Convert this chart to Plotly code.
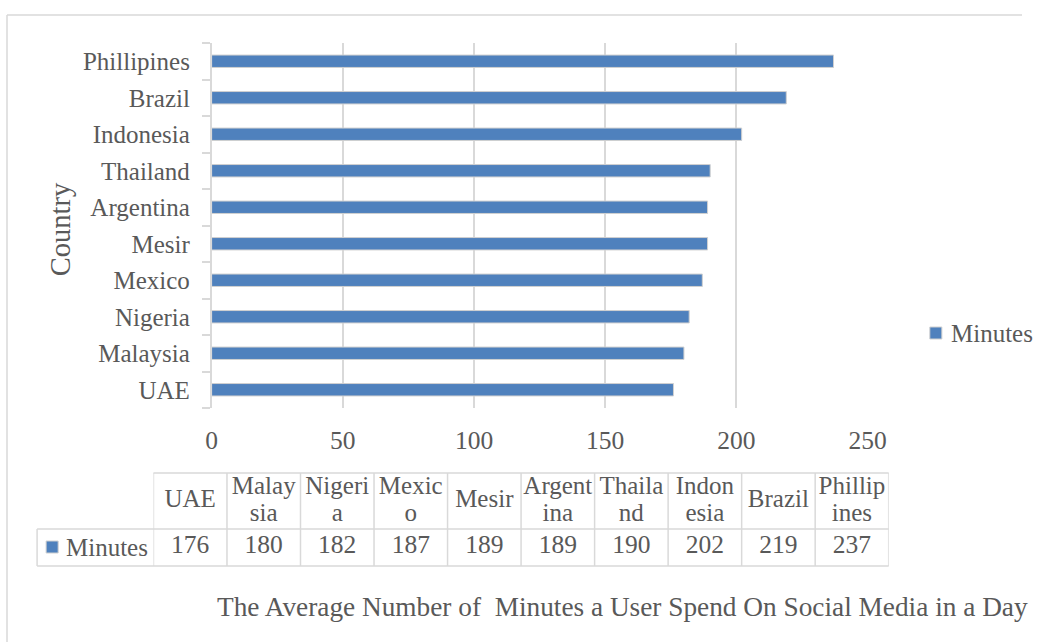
import plotly.graph_objects as go

# ---------------- data ----------------
countries = ["UAE", "Malaysia", "Nigeria", "Mexico", "Mesir",
             "Argentina", "Thailand", "Indonesia", "Brazil", "Phillipines"]
minutes = [176, 180, 182, 187, 189, 189, 190, 202, 219, 237]
table_headers = ["UAE", "Malay<br>sia", "Nigeri<br>a", "Mexic<br>o", "Mesir",
                 "Argent<br>ina", "Thaila<br>nd", "Indon<br>esia", "Brazil", "Phillip<br>ines"]
series_name = "Minutes"
x_ticks = [0, 50, 100, 150, 200, 250]
axis_title_y = "Country"
chart_title = "The Average Number of&nbsp; Minutes a User Spend On Social Media in a Day"

# ---------------- style ----------------
W, H = 1041, 642
FONT = "Liberation Serif"
TXT = "#595959"
GRID = "#d9d9d9"
BAR = "#4f81bd"
FS = 25
FS_NUM = 25.5
# horizontal calibration of the rendering pipeline (offset, scale)
OFF, SC = 7.0, 0.973


def px(x):
    return (x - OFF) / SC / W


def py(y):
    return 1 - y / H


fig = go.Figure()

fig.add_trace(go.Bar(
    x=minutes, y=countries, orientation="h", name=series_name,
    marker=dict(color=BAR, line=dict(color="#d0d0d0", width=1)),
    showlegend=False, hoverinfo="x+y",
    xaxis="x", yaxis="y",
))

# ---------------- data table (category axis x2, pixel-like axis y2) ----------------
TABLE_TOP, TABLE_MID, TABLE_BOT = 473, 529, 566
hdr_x, hdr_y, hdr_t = [], [], []
for c, lab in zip(countries, table_headers):
    parts = lab.split("<br>")
    if len(parts) == 1:
        hdr_x.append(c); hdr_y.append(TABLE_BOT - 501); hdr_t.append(parts[0])
    else:
        hdr_x += [c, c]
        hdr_y += [TABLE_BOT - 488, TABLE_BOT - 515]
        hdr_t += parts

fig.add_trace(go.Scatter(
    x=hdr_x, y=hdr_y, text=hdr_t, mode="text", textposition="middle center",
    textfont=dict(family=FONT, size=FS, color=TXT),
    xaxis="x2", yaxis="y2", showlegend=False, hoverinfo="skip",
))
fig.add_trace(go.Scatter(
    x=countries, y=[TABLE_BOT - 547] * len(countries),
    text=[str(v) for v in minutes], mode="text", textposition="middle center",
    textfont=dict(family=FONT, size=FS_NUM, color=TXT),
    xaxis="x2", yaxis="y2", showlegend=False, hoverinfo="skip",
))

shapes = []
# outer chart border (top and left edges; right/bottom lie outside the view)
shapes.append(dict(type="line", xref="paper", yref="paper",
                   x0=px(8), x1=1, y0=py(15), y1=py(15),
                   line=dict(color=GRID, width=1.5), layer="below"))
shapes.append(dict(type="line", xref="paper", yref="paper",
                   x0=px(8), x1=px(8), y0=py(15), y1=0,
                   line=dict(color=GRID, width=1.5), layer="below"))
# table vertical lines
for i in range(len(countries) + 1):
    shapes.append(dict(type="line", xref="x2", yref="paper",
                       x0=i - 0.5, x1=i - 0.5, y0=py(TABLE_TOP), y1=py(TABLE_BOT),
                       line=dict(color=GRID, width=1.5)))
# table horizontal lines
shapes.append(dict(type="line", xref="paper", yref="paper",
                   x0=px(154), x1=px(887), y0=py(TABLE_TOP), y1=py(TABLE_TOP),
                   line=dict(color=GRID, width=1.5)))
for yy in (TABLE_MID, TABLE_BOT):
    shapes.append(dict(type="line", xref="paper", yref="paper",
                       x0=px(38), x1=px(887), y0=py(yy), y1=py(yy),
                       line=dict(color=GRID, width=1.5)))
shapes.append(dict(type="line", xref="paper", yref="paper",
                   x0=px(38), x1=px(38), y0=py(TABLE_MID), y1=py(TABLE_BOT),
                   line=dict(color=GRID, width=1.5)))
# legend keys (table + right legend)
for (kx, ky) in ((47, 541), (928, 327)):
    shapes.append(dict(type="rect", xref="paper", yref="paper",
                       x0=px(kx), x1=px(kx + 12), y0=py(ky + 12), y1=py(ky),
                       fillcolor=BAR, line=dict(color="#d0d0d0", width=1)))

annotations = [
    dict(text=series_name, x=px(65), y=py(547), xref="paper", yref="paper",
         xanchor="left", yanchor="middle", showarrow=False,
         font=dict(family=FONT, size=FS, color=TXT)),
    dict(text=series_name, x=px(947), y=py(333), xref="paper", yref="paper",
         xanchor="left", yanchor="middle", showarrow=False,
         font=dict(family=FONT, size=FS, color=TXT)),
    dict(text=axis_title_y, x=px(61), y=py(229), xref="paper", yref="paper",
         xanchor="center", yanchor="middle", showarrow=False, textangle=-90,
         font=dict(family=FONT, size=28.5, color=TXT)),
    dict(text=chart_title, x=px(622), y=py(607), xref="paper", yref="paper",
         xanchor="center", yanchor="middle", showarrow=False,
         font=dict(family=FONT, size=27.3, color=TXT)),
]

fig.update_layout(
    width=W, height=H,
    margin=dict(l=0, r=0, t=0, b=0),
    paper_bgcolor="white", plot_bgcolor="white",
    font=dict(family=FONT, size=FS, color=TXT),
    bargap=0.66,
    showlegend=False,
    shapes=shapes,
    annotations=annotations,
    xaxis=dict(domain=[px(212), px(866)], range=[0, 250], tickvals=x_ticks,
               showgrid=True, gridcolor=GRID, gridwidth=1.5, zeroline=False,
               showline=False, ticks="", anchor="y",
               ticklabelstandoff=14,
               tickfont=dict(family=FONT, size=FS_NUM, color=TXT)),
    yaxis=dict(domain=[py(408), py(43)], type="category",
               categoryorder="array", categoryarray=countries,
               showline=True, linecolor=GRID, linewidth=1.5,
               ticks="outside", tickson="boundaries", ticklen=8, tickcolor=GRID,
               tickwidth=1.5, showgrid=False, anchor="x",
               ticklabelstandoff=15,
               tickfont=dict(family=FONT, size=FS, color=TXT)),
    xaxis2=dict(domain=[px(154), px(887)], type="category",
                categoryorder="array", categoryarray=countries,
                range=[-0.5, len(countries) - 0.5],
                visible=False, anchor="y2"),
    yaxis2=dict(domain=[py(TABLE_BOT), py(TABLE_TOP)],
                range=[0, TABLE_BOT - TABLE_TOP], visible=False, anchor="x2"),
)

fig.write_html("out.html")
